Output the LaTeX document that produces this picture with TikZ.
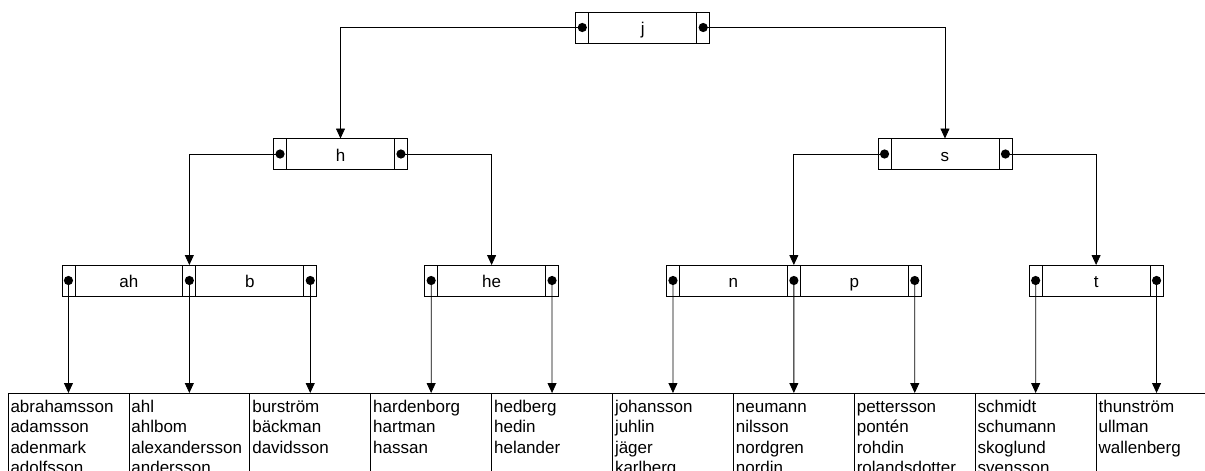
\documentclass[tikz,border=0pt]{standalone}
\usepackage{fontspec}
\setmainfont{Liberation Sans}
\usetikzlibrary{arrows.meta,positioning}

\begin{document}
\begin{tikzpicture}[x=1pt,y=-1pt,
  every node/.style={font=\fontsize{17}{20.5}\selectfont},
  cellbase/.style={draw, line width=0.8pt, minimum height=31pt, inner sep=0pt, outer sep=0pt},
  ptrcell/.style={cellbase, minimum width=13pt,
    path picture={\fill (path picture bounding box.center) circle (4.6pt);}},
  keycell/.style={cellbase, minimum width=107.9pt, text height=14pt, text depth=0pt},
  leafbox/.style={draw, line width=0.8pt, minimum width=120.9pt, minimum height=100pt,
    anchor=north west, inner sep=0pt, outer sep=0pt},
  leaftext/.style={inner sep=0pt, align=left},
  link/.style={line width=0.8pt, -{Triangle[width=9pt,length=10pt]}}
]
\useasboundingbox (0,0) rectangle (1205,471);
\clip (0,0) rectangle (1205,471);

% ---- root ----
\node[ptrcell] (j0) at (582.29,27.5) {};
\node[keycell, right=0pt of j0] (jk) {j};
\node[ptrcell, right=0pt of jk] (j1) {};

% ---- second level ----
\node[ptrcell] (h0) at (280.05,154) {};
\node[keycell, right=0pt of h0] (hk) {h};
\node[ptrcell, right=0pt of hk] (h1) {};

\node[ptrcell] (s0) at (884.53,154) {};
\node[keycell, right=0pt of s0] (sk) {s};
\node[ptrcell, right=0pt of sk] (s1) {};

% ---- third level ----
\node[ptrcell] (ab0) at (68.45,280.5) {};
\node[keycell, right=0pt of ab0] (abk1) {ah};
\node[ptrcell, right=0pt of abk1] (ab1) {};
\node[keycell, right=0pt of ab1] (abk2) {b};
\node[ptrcell, right=0pt of abk2] (ab2) {};

\node[ptrcell] (he0) at (431.15,280.5) {};
\node[keycell, right=0pt of he0] (hek) {he};
\node[ptrcell, right=0pt of hek] (he1) {};

\node[ptrcell] (np0) at (672.95,280.5) {};
\node[keycell, right=0pt of np0] (npk1) {n};
\node[ptrcell, right=0pt of npk1] (np1) {};
\node[keycell, right=0pt of np1] (npk2) {p};
\node[ptrcell, right=0pt of npk2] (np2) {};

\node[ptrcell] (t0) at (1035.65,280.5) {};
\node[keycell, right=0pt of t0] (tk) {t};
\node[ptrcell, right=0pt of tk] (t1) {};

% ---- leaf pages ----
\node[leafbox] (L0) at (8,393) {};
\node[leafbox, right=0pt of L0.north east, anchor=north west] (L1) {};
\node[leafbox, right=0pt of L1.north east, anchor=north west] (L2) {};
\node[leafbox, right=0pt of L2.north east, anchor=north west] (L3) {};
\node[leafbox, right=0pt of L3.north east, anchor=north west] (L4) {};
\node[leafbox, right=0pt of L4.north east, anchor=north west] (L5) {};
\node[leafbox, right=0pt of L5.north east, anchor=north west] (L6) {};
\node[leafbox, right=0pt of L6.north east, anchor=north west] (L7) {};
\node[leafbox, right=0pt of L7.north east, anchor=north west] (L8) {};
\node[leafbox, right=0pt of L8.north east, anchor=north west] (L9) {};

\node[leaftext, below right=6pt and 2.3pt of L0.north west] (T0)
  {\rule{0pt}{13pt}abrahamsson\\adamsson\\adenmark\\adolfsson};
\node[leaftext, below right=6pt and 2.3pt of L1.north west] (T1)
  {\rule{0pt}{13pt}ahl\\ahlbom\\alexandersson\\andersson};
\node[leaftext, below right=6pt and 2.3pt of L2.north west] (T2)
  {\rule{0pt}{13pt}burström\\bäckman\\davidsson};
\node[leaftext, below right=6pt and 2.3pt of L3.north west] (T3)
  {\rule{0pt}{13pt}hardenborg\\hartman\\hassan};
\node[leaftext, below right=6pt and 2.3pt of L4.north west] (T4)
  {\rule{0pt}{13pt}hedberg\\hedin\\helander};
\node[leaftext, below right=6pt and 2.3pt of L5.north west] (T5)
  {\rule{0pt}{13pt}johansson\\juhlin\\jäger\\karlberg};
\node[leaftext, below right=6pt and 2.3pt of L6.north west] (T6)
  {\rule{0pt}{13pt}neumann\\nilsson\\nordgren\\nordin};
\node[leaftext, below right=6pt and 2.3pt of L7.north west] (T7)
  {\rule{0pt}{13pt}pettersson\\pontén\\rohdin\\rolandsdotter};
\node[leaftext, below right=6pt and 2.3pt of L8.north west] (T8)
  {\rule{0pt}{13pt}schmidt\\schumann\\skoglund\\svensson};
\node[leaftext, below right=6pt and 2.3pt of L9.north west] (T9)
  {\rule{0pt}{13pt}thunström\\ullman\\wallenberg};

% ---- pointers ----
\draw[link] (j0.center) -| (hk.north);
\draw[link] (j1.center) -| (sk.north);

\draw[link] (h0.center) -| (ab1.north);
\draw[link] (h1.center) -| (hek.north);
\draw[link] (s0.center) -| (np1.north);
\draw[link] (s1.center) -| (tk.north);

\draw[link] (ab0.center) -- (L0.north);
\draw[link] (ab1.center) -- (L1.north);
\draw[link] (ab2.center) -- (L2.north);
\draw[link] (he0.center) -- (L3.north);
\draw[link] (he1.center) -- (L4.north);
\draw[link] (np0.center) -- (L5.north);
\draw[link] (np1.center) -- (L6.north);
\draw[link] (np2.center) -- (L7.north);
\draw[link] (t0.center) -- (L8.north);
\draw[link] (t1.center) -- (L9.north);
\end{tikzpicture}
\end{document}
